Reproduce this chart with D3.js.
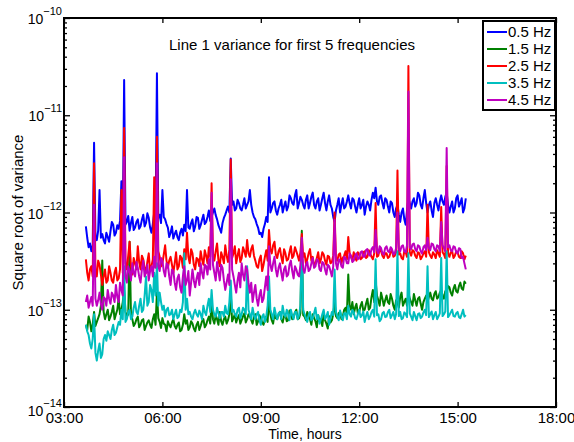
<!DOCTYPE html>
<html><head><meta charset="utf-8">
<script src="https://cdn.jsdelivr.net/npm/d3@7"></script>
<style>
body{margin:0;background:#fff}
svg{display:block;font-family:"Liberation Sans",Arial,Helvetica,sans-serif}
</style>
</head><body>
<svg id="chart" width="574" height="442"></svg>
<script>
// ---- data (values in units of 1e-13), one sample every 2.5 minutes from 03:40 ----
const UNIT = 1e-13;
const startTime = "03:40";
const stepMinutes = 2.5;
const seriesNames = ["0.5 Hz", "1.5 Hz", "2.5 Hz", "3.5 Hz", "4.5 Hz"];
const seriesColors = ["#0000ff", "#008000", "#ff0000", "#00bfbf", "#bf00bf"];

const hz05 = [
  7.2,5.5,4.4,4.8,4.0,4.6,52,5.8,5.2,6.5,17,5.5,6.0,5.2,4.8,6.2,5.6,5.0,6.4,8.0,
  7.5,5.8,6.2,7.4,6.8,8.2,21,7.0,230,7.5,8.0,9.2,6.5,7.8,9.0,6.6,7.0,8.0,8.5,6.8,
  7.2,8.4,9.5,7.2,7.8,9.8,8.8,7.0,6.2,7.6,10,8.0,270,8.8,9.5,7.8,17,9.0,8.5,7.6,
  7.0,5.6,6.2,7.2,5.4,6.0,6.5,5.6,5.2,6.2,6.8,5.8,7.5,6.4,17,7.0,6.8,7.8,8.5,6.4,
  7.2,9.0,8.8,6.8,7.4,8.4,9.5,7.6,8.0,9.0,10.5,8.2,9.0,10,11,9.4,8.5,7.4,6.8,6.2,
  7.8,8.8,9.5,10.5,11.5,10,36,12,13,10.5,11,13.5,12.5,11,10.5,12,14,11,12,13,
  17,12,10,9.0,8.5,7.6,7.0,6.0,6.2,5.6,6.8,7.6,9.0,8.0,23,10,11,12.5,13,10.5,
  9.5,11,12,13.5,10,11.5,13,10.5,11.5,15,14,12.5,12,15,17,11,12.5,14.5,13.5,12,
  11,13.5,15,11,12.5,14.5,16,12,11,13,14,10.5,12,14,16,12.5,10.5,13,15,12,
  11,9.0,8.0,10.5,12,14,10,12,14,11,11.5,13,15,12.5,11,14,13.5,11.5,10,12,
  14,11,12,13.5,9.5,11.5,13,12,10.5,13.5,16,14,18,13,12,14.5,15,12.5,11,14,
  13.5,11.5,10,13,12.5,10,9.0,11,12,9.5,8.0,10,11,8.5,7.5,10.5,14,12.5,11,13,
  14,11.5,12.5,16,15,12,11,14,17,12.5,10,12,13,10.5,9.0,12.5,14,12,10.5,13,
  15,13,12,14.5,16,12,10,11.5,13,10,11,14,15,11.5,12.5,14,10,11,14];

const hz15 = [
  0.7,0.62,0.85,0.75,0.6,0.7,0.95,0.68,0.75,0.82,0.9,1.1,3.2,0.95,0.8,0.9,1.0,0.78,0.85,0.95,
  1.1,0.8,0.9,1.0,1.3,0.9,1.0,1.2,1.6,0.95,0.85,0.9,5.0,0.9,0.8,0.68,0.72,0.8,0.85,0.66,
  0.7,0.78,0.8,0.62,0.68,0.74,0.78,0.7,0.65,0.8,0.9,0.7,1.5,0.82,0.75,0.65,0.82,0.72,0.7,0.6,
  0.76,0.7,0.66,0.74,0.8,0.68,0.64,0.7,0.74,0.6,0.62,0.7,0.9,0.72,0.78,0.62,0.66,0.76,0.72,0.64,
  0.6,0.7,0.75,0.62,0.68,0.76,0.8,0.66,0.7,0.78,0.85,0.72,1.2,0.8,0.72,0.88,0.8,0.7,0.95,0.76,
  0.7,0.8,0.85,0.72,0.78,0.9,1.5,0.76,0.82,0.9,0.74,0.82,0.88,0.72,0.78,0.86,0.92,0.74,0.8,0.9,
  0.86,0.78,0.72,0.84,0.9,0.7,0.76,0.88,0.82,0.74,0.7,0.8,0.85,0.75,1.4,0.9,0.78,0.72,0.9,0.82,
  0.8,0.9,0.95,0.8,0.74,0.86,0.88,0.76,0.78,0.98,0.92,0.8,0.84,0.94,1.0,0.8,0.82,0.92,6.5,0.88,
  0.85,0.78,0.95,0.86,0.8,0.7,0.9,0.82,0.76,0.66,0.88,0.76,0.8,0.68,0.92,0.78,0.72,0.64,0.86,0.74,
  0.78,0.9,1.2,0.86,0.82,0.92,0.95,0.8,0.85,1.0,1.05,0.9,2.3,1.1,1.0,1.2,0.9,1.05,1.15,0.92,
  0.95,1.1,1.2,0.98,1.0,1.15,1.3,1.0,1.05,1.35,1.6,1.2,2.0,1.4,1.25,1.1,1.5,1.3,1.1,1.25,
  1.4,1.2,1.15,1.45,1.3,1.1,1.0,1.25,1.2,1.05,1.35,1.5,1.1,1.2,1.3,1.1,1.5,1.3,1.2,1.1,
  1.45,1.25,1.1,1.3,1.35,1.15,1.0,1.2,1.3,1.4,1.2,1.35,1.5,1.3,1.25,1.45,1.55,1.3,1.35,1.5,
  1.6,1.4,1.3,1.55,1.5,1.75,1.7,1.5,1.4,1.65,1.8,1.55,1.5,1.75,1.9,1.65,1.6,1.95,1.85];

const hz25 = [
  3.3,2.4,2.0,2.6,2.8,2.2,32,2.6,2.2,3.2,2.9,2.3,1.8,2.2,2.6,1.9,2.0,2.8,2.4,2.0,
  1.9,2.4,2.7,2.0,2.1,2.6,17,2.4,74,3.0,2.6,3.6,5.0,2.8,2.3,3.4,3.0,2.6,4.5,3.1,
  2.6,3.6,3.3,2.7,2.4,3.1,3.8,2.5,2.8,3.3,23,3.0,60,4.0,3.5,2.8,3.0,3.7,4.6,3.2,
  2.7,3.2,3.5,2.9,2.4,3.0,3.9,2.6,2.8,3.6,3.4,2.7,4.2,3.3,6.2,3.5,3.0,4.2,3.8,2.9,
  2.6,3.4,3.3,2.8,4.0,3.3,2.9,4.1,3.6,3.0,4.4,3.5,20,3.8,3.2,4.0,4.8,3.2,2.8,3.9,
  3.5,3.0,4.6,3.6,3.1,4.2,35,3.4,3.8,4.5,3.0,3.6,4.2,3.1,3.4,4.4,4.0,3.5,5.2,3.8,
  3.5,4.2,4.6,3.6,3.2,2.8,2.7,3.3,3.6,2.5,2.9,3.5,4.1,3.2,6.6,4.2,3.8,4.6,5.0,3.7,
  3.4,4.0,4.3,3.5,3.0,4.2,3.8,3.2,3.3,3.9,4.5,3.4,3.6,4.4,4.0,3.6,3.2,3.9,6.0,3.5,
  3.8,3.0,3.3,3.8,4.2,3.2,3.5,2.8,3.0,3.4,3.9,3.0,3.3,3.9,3.7,3.2,2.9,3.6,3.5,3.0,
  3.1,3.6,10,3.3,3.2,3.7,3.8,3.0,3.4,3.6,4.0,3.3,5.6,3.8,3.5,3.2,3.9,3.5,3.2,3.9,
  3.7,3.3,3.4,3.9,4.0,3.4,3.5,4.1,3.8,3.5,3.3,3.8,12.5,3.5,3.6,4.2,4.0,3.6,3.4,3.8,
  3.8,3.4,3.5,3.9,4.1,3.5,3.6,3.9,27,3.7,3.8,3.4,3.3,4.0,3.9,3.5,320,3.9,3.6,4.1,
  4.0,3.6,3.4,3.9,3.8,3.3,3.5,3.8,4.0,3.5,12,3.9,3.6,3.4,3.9,3.7,3.4,4.1,3.8,3.5,
  11.4,3.9,3.7,3.4,30,3.8,3.5,3.9,4.0,3.4,3.6,4.0,3.9,3.5,3.4,4.0,3.8,3.3,3.6];

const hz35 = [
  0.7,0.6,0.55,0.45,0.4,0.5,0.9,0.36,0.3,0.38,0.45,0.32,0.35,0.5,0.55,0.48,0.6,0.55,0.5,0.62,
  0.7,0.55,0.58,0.66,0.75,0.7,1.0,0.8,2.8,0.75,0.8,0.95,1.0,0.8,0.85,1.05,1.2,0.95,0.9,1.1,
  1.3,0.95,1.0,1.4,2.2,1.1,1.2,1.8,1.6,1.2,2.4,1.4,3.0,1.1,1.5,1.2,1.0,1.1,0.85,1.0,
  1.05,0.88,0.9,1.0,0.8,0.9,1.0,0.82,0.85,1.0,0.95,1.2,3.8,1.0,1.3,0.9,0.95,0.85,0.8,0.92,
  1.0,0.9,0.85,0.98,0.9,0.8,1.1,0.95,0.88,1.1,1.3,0.95,1.6,1.0,0.9,0.85,1.05,0.92,0.82,0.95,
  0.95,0.85,1.1,0.92,0.9,1.2,2.0,0.95,1.0,0.9,0.85,1.0,1.05,0.82,0.9,1.05,1.0,0.9,2.8,1.0,
  0.9,0.8,1.05,0.88,0.8,0.9,0.95,0.78,0.7,0.85,0.9,0.75,0.85,1.1,2.2,1.0,0.9,0.8,1.05,0.9,
  0.8,0.92,0.95,0.8,1.1,0.9,0.85,1.0,0.9,0.78,1.0,0.88,0.8,0.95,0.95,0.8,0.88,1.1,5.2,1.0,
  0.9,0.82,0.75,0.88,0.95,0.78,0.82,0.92,1.05,0.8,0.88,0.72,0.8,0.9,1.0,0.8,0.85,0.95,0.7,0.82,
  0.95,0.88,2.6,0.95,0.85,0.78,0.98,0.86,0.78,0.92,0.92,0.8,1.1,0.9,0.85,1.0,0.95,0.82,0.8,0.9,
  1.0,0.84,0.88,0.96,0.75,0.86,0.95,0.8,0.85,0.95,1.0,0.85,3.3,0.88,0.9,0.76,0.8,0.92,0.95,0.84,
  0.85,0.95,1.0,0.82,0.88,0.95,0.8,0.9,4.0,0.86,0.95,0.8,0.82,0.94,0.9,0.84,3.8,0.92,0.85,0.78,
  0.95,0.86,0.78,0.9,0.92,0.82,0.85,0.94,1.0,0.88,2.8,0.84,0.9,0.96,0.8,0.88,0.95,0.8,0.85,0.92,
  3.4,0.86,0.9,0.96,4.0,0.84,0.88,0.94,1.0,0.86,0.85,0.92,0.95,0.84,0.82,0.9,1.0,0.85,0.88];

const hz45 = [
  1.2,1.4,1.05,1.2,1.35,1.1,12,1.3,1.1,1.25,1.5,1.15,1.0,1.35,1.3,1.1,1.6,1.3,1.15,1.5,
  1.4,1.2,1.8,1.35,1.2,1.9,1.6,1.4,37,2.2,1.9,2.8,2.5,2.0,3.0,2.4,2.2,3.1,2.7,2.2,
  1.9,2.6,3.2,2.2,2.4,2.9,2.0,2.5,2.8,2.2,3.5,2.7,32,2.8,2.5,3.4,3.2,2.5,2.2,3.0,
  2.9,2.2,1.8,2.6,2.5,1.9,1.6,2.1,2.3,1.7,1.5,2.2,2.8,1.8,2.0,2.5,1.4,1.9,2.6,2.0,
  1.7,2.1,2.4,1.8,3.0,2.4,2.1,2.9,2.8,2.3,3.3,2.6,16,2.9,2.4,2.0,3.1,2.5,2.0,2.9,
  2.7,2.0,1.6,1.9,2.3,1.8,22,2.6,2.2,1.8,1.5,2.0,2.4,1.7,3.0,2.3,2.0,2.8,2.6,1.9,
  1.5,1.9,1.2,1.5,1.8,1.3,1.1,1.4,1.6,1.2,1.3,1.7,2.2,1.6,4.5,2.9,2.5,3.0,3.5,2.6,
  2.2,2.7,3.0,2.4,2.0,2.6,2.8,2.2,2.3,2.9,3.2,2.5,2.1,2.8,2.6,2.3,2.2,2.9,5.5,2.6,
  2.4,2.9,3.1,2.5,2.6,3.0,3.4,2.7,2.8,3.3,3.2,2.6,2.5,3.1,3.0,2.6,2.3,2.9,2.8,2.5,
  2.2,2.8,8.4,3.0,2.6,3.3,3.2,2.8,2.7,3.5,3.4,3.0,3.0,3.8,3.6,3.1,3.2,3.6,3.8,3.3,
  3.4,3.9,4.0,3.5,3.5,4.1,4.2,3.7,3.6,4.2,4.4,3.9,6.6,4.1,3.8,4.5,4.3,3.8,3.7,4.3,
  4.5,4.0,3.9,4.4,4.2,3.7,3.8,4.3,10,4.2,4.0,4.5,4.6,4.0,3.9,4.6,175,4.4,4.2,4.7,
  4.8,4.2,4.0,4.6,4.5,4.0,3.8,4.4,4.6,4.1,5.5,4.3,4.1,4.8,4.7,4.2,4.0,4.6,4.5,4.0,
  8.0,4.6,4.3,4.0,46,4.4,4.6,4.1,4.0,4.5,4.4,3.9,3.8,4.3,4.2,3.4,3.5,3.0,2.6];

const xTickLabels = ["03:00","06:00","09:00","12:00","15:00","18:00"];
const yTickExponents = [-14,-13,-12,-11,-10];
const titleText = "Line 1 variance for first 5 frequencies";
const xLabel = "Time, hours";
const yLabel = "Square root of variance";

// ---- drawing ----
(function () {
const allSeries = [hz05, hz15, hz25, hz35, hz45];
const svg = d3.select("#chart");
const L = 64, R = 556, T = 18, B = 407;
const hm = s => { const [h, m] = s.split(":").map(Number); return h + m / 60; };
const t0 = hm(startTime);

const x = d3.scaleLinear()
  .domain([hm(xTickLabels[0]), hm(xTickLabels[xTickLabels.length - 1])])
  .range([L, R]);
const y = d3.scaleLog()
  .domain([Math.pow(10, yTickExponents[0]), Math.pow(10, yTickExponents[yTickExponents.length - 1])])
  .range([B, T]);

const line = d3.line()
  .x((d, i) => x(t0 + i * stepMinutes / 60))
  .y(d => y(d * UNIT));

svg.append("g").selectAll("path")
  .data(allSeries)
  .join("path")
  .attr("d", d => line(d))
  .attr("fill", "none")
  .attr("stroke", (d, i) => seriesColors[i])
  .attr("stroke-width", 2)
  .attr("stroke-linejoin", "round");

const xTickVals = xTickLabels.map(hm);
const fs = 15;
const gBottom = svg.append("g").attr("transform", `translate(0,${B})`)
  .call(d3.axisBottom(x).tickValues(xTickVals).tickSizeInner(-5).tickSizeOuter(0)
    .tickPadding(5).tickFormat((d, i) => xTickLabels[i]));
const gTop = svg.append("g").attr("transform", `translate(0,${T})`)
  .call(d3.axisTop(x).tickValues(xTickVals).tickSizeInner(-5).tickSizeOuter(0).tickFormat(""));

const majors = yTickExponents.map(e => Math.pow(10, e));
const minors = [];
for (let e = yTickExponents[0]; e < yTickExponents[yTickExponents.length - 1]; e++)
  for (let k = 2; k <= 9; k++) minors.push(k * Math.pow(10, e));

const gLeft = svg.append("g").attr("transform", `translate(${L},0)`)
  .call(d3.axisLeft(y).tickValues(majors).tickSizeInner(-6).tickSizeOuter(0).tickFormat(""));
const gLeftMin = svg.append("g").attr("transform", `translate(${L},0)`)
  .call(d3.axisLeft(y).tickValues(minors).tickSizeInner(-3).tickSizeOuter(0).tickFormat(""));
const gRight = svg.append("g").attr("transform", `translate(${R},0)`)
  .call(d3.axisRight(y).tickValues(majors).tickSizeInner(-6).tickSizeOuter(0).tickFormat(""));
const gRightMin = svg.append("g").attr("transform", `translate(${R},0)`)
  .call(d3.axisRight(y).tickValues(minors).tickSizeInner(-3).tickSizeOuter(0).tickFormat(""));

[gBottom, gTop, gLeft, gLeftMin, gRight, gRightMin].forEach(g => {
  g.select(".domain").remove();
  g.selectAll("line").attr("stroke", "#000").attr("stroke-width", 1.3);
  g.selectAll("text").attr("fill", "#000").attr("font-size", fs)
    .attr("font-family", '"Liberation Sans",Arial,sans-serif');
});

svg.append("rect").attr("x", L).attr("y", T).attr("width", R - L).attr("height", B - T)
  .attr("fill", "none").attr("stroke", "#000").attr("stroke-width", 2);

svg.append("g").selectAll("text")
  .data(yTickExponents)
  .join("text")
  .attr("x", L - 2)
  .attr("y", d => y(Math.pow(10, d)) + 6 + (d === yTickExponents[0] ? 3 : 0))
  .attr("text-anchor", "end")
  .attr("font-size", 14)
  .attr("fill", "#000")
  .each(function (d) {
    const t = d3.select(this);
    t.append("tspan").text("10");
    t.append("tspan").attr("dy", -9).attr("font-size", 11).text("\u2212" + Math.abs(d));
  });

svg.append("text").attr("x", 292).attr("y", 50).attr("text-anchor", "middle")
  .attr("font-size", fs).attr("fill", "#000").text(titleText);

svg.append("text").attr("x", 305).attr("y", 439).attr("text-anchor", "middle")
  .attr("font-size", 14).attr("fill", "#000").text(xLabel);
svg.append("text").attr("transform", `translate(23,${(T + B) / 2}) rotate(-90)`)
  .attr("text-anchor", "middle").attr("font-size", fs).attr("fill", "#000").text(yLabel);

const lg = svg.append("g");
lg.append("rect").attr("x", 483).attr("y", 21).attr("width", 72).attr("height", 89)
  .attr("fill", "#fff").attr("stroke", "#000").attr("stroke-width", 2);
const rows = lg.selectAll("g.item").data(seriesNames).join("g")
  .attr("transform", (d, i) => `translate(0,${32 + i * 17})`);
rows.append("line").attr("x1", 487).attr("x2", 507).attr("y1", 0).attr("y2", 0)
  .attr("stroke", (d, i) => seriesColors[i]).attr("stroke-width", 2);
rows.append("text").attr("x", 508).attr("y", 5).attr("font-size", fs).attr("fill", "#000")
  .text(d => d);
})();
</script>
</body></html>
